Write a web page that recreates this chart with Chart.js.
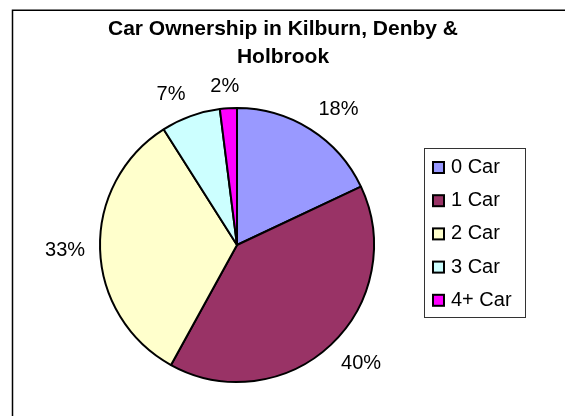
<!DOCTYPE html>
<html><head><meta charset="utf-8">
<script src="https://cdn.jsdelivr.net/npm/chart.js@4"></script>
<style>html,body{margin:0;padding:0;background:#fff;overflow:hidden}canvas{display:block}</style>
</head><body>
<canvas id="c" width="565" height="416"></canvas>
<script>
const titleLines = ['Car Ownership in Kilburn, Denby &', 'Holbrook'];
const categories = ['0 Car', '1 Car', '2 Car', '3 Car', '4+ Car'];
const shares = [18, 40, 33, 7, 2];
const sliceColors = ['#9999FF', '#993366', '#FFFFCC', '#CCFFFF', '#FF00FF'];

const FONT = '"Liberation Sans", Arial, sans-serif';

const decor = {
  id: 'decor',
  beforeDraw(chart) {
    const ctx = chart.ctx;
    ctx.save();
    ctx.fillStyle = '#fff';
    ctx.fillRect(0, 0, chart.width, chart.height);
    ctx.restore();
  },
  afterDatasetsDraw(chart, args, o) {
    const ctx = chart.ctx;
    ctx.save();
    // outer frame (only top and left edges are visible in the reference)
    ctx.strokeStyle = '#000';
    ctx.lineWidth = o.frame.lw;
    ctx.beginPath();
    ctx.moveTo(o.frame.x, chart.height);
    ctx.lineTo(o.frame.x, o.frame.y);
    ctx.lineTo(chart.width, o.frame.y);
    ctx.stroke();
    // title
    ctx.fillStyle = '#000';
    ctx.textAlign = 'center';
    ctx.textBaseline = 'middle';
    ctx.font = 'bold ' + o.title.size + 'px ' + FONT;
    titleLines.forEach((t, i) => ctx.fillText(t, o.title.x, o.title.y + i * o.title.lineGap));
    // percentage labels
    const meta = chart.getDatasetMeta(0);
    const total = shares.reduce((a, b) => a + b, 0);
    ctx.font = o.labels.size + 'px ' + FONT;
    const h = o.labels.size * 0.72;
    const clamp = v => Math.max(-1, Math.min(1, v * 3));
    meta.data.forEach((arc, i) => {
      const p = arc.getProps(['x', 'y', 'startAngle', 'endAngle', 'outerRadius'], true);
      const mid = (p.startAngle + p.endAngle) / 2;
      const c = Math.cos(mid), s = Math.sin(mid);
      const txt = Math.round(shares[i] / total * 100) + '%';
      const w = ctx.measureText(txt).width;
      const R = p.outerRadius + o.labels.gap;
      const x = p.x + R * c + w / 2 * clamp(c);
      const y = p.y + R * s + h / 2 * clamp(s);
      ctx.fillText(txt, x, y);
    });
    // legend
    const L = o.legend;
    ctx.strokeStyle = L.border;
    ctx.lineWidth = 1;
    ctx.strokeRect(L.x + 0.5, L.y + 0.5, L.w, L.h);
    ctx.font = L.size + 'px ' + FONT;
    ctx.textAlign = 'left';
    categories.forEach((name, i) => {
      const cy = L.firstY + i * L.step;
      ctx.fillStyle = sliceColors[i];
      ctx.fillRect(L.boxX, cy - L.box / 2, L.box, L.box);
      ctx.strokeStyle = '#000';
      ctx.lineWidth = 2;
      ctx.strokeRect(L.boxX, cy - L.box / 2, L.box, L.box);
      ctx.fillStyle = '#000';
      ctx.fillText(name, L.textX, cy);
    });
    ctx.restore();
  }
};

new Chart(document.getElementById('c'), {
  type: 'pie',
  data: {
    labels: categories,
    datasets: [{
      data: shares,
      backgroundColor: sliceColors,
      borderColor: '#000',
      borderWidth: 2,
      radius: 137
    }]
  },
  options: {
    responsive: false,
    animation: false,
    events: [],
    layout: { padding: { left: 20, right: 111, top: 100, bottom: 26 } },
    plugins: {
      legend: { display: false },
      title: { display: false },
      tooltip: { enabled: false },
      decor: {
        frame: { x: 12.5, y: 10.2, lw: 1.5 },
        title: { x: 283, y: 29.5, lineGap: 28, size: 21 },
        labels: { size: 20, gap: 15 },
        legend: { x: 424, y: 148, w: 101, h: 169, border: '#333', size: 20,
                  boxX: 433, box: 11, textX: 451, firstY: 167.5, step: 33.2 }
      }
    }
  },
  plugins: [decor]
});
</script>
</body></html>
